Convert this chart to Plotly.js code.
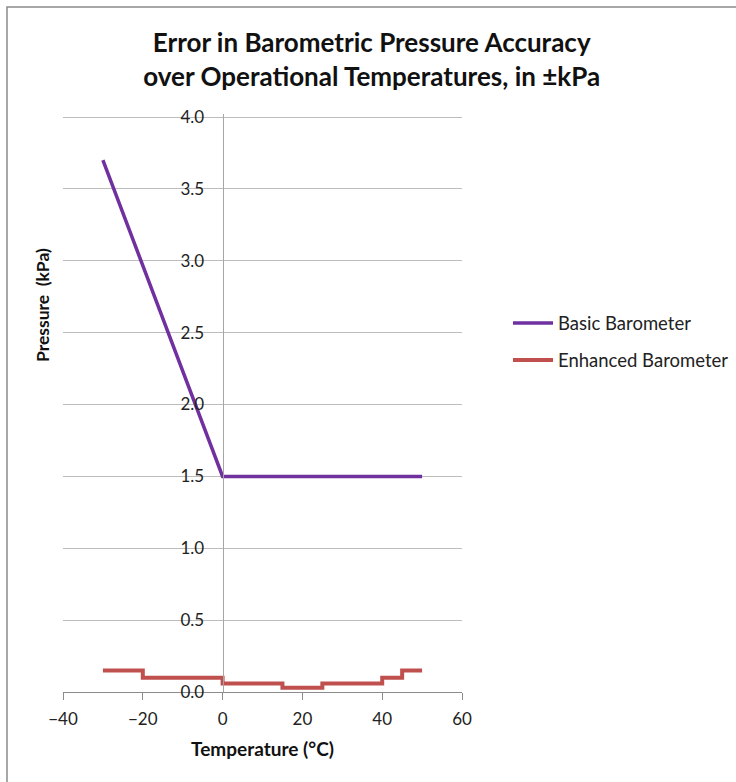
<!DOCTYPE html>
<html>
<head>
<meta charset="utf-8">
<script src="https://cdn.plot.ly/plotly-3.0.1.min.js"></script>
<style>html,body{margin:0;padding:0;background:#fff;}</style>
</head>
<body>
<div id="chart" style="width:736px;height:782px;"></div>
<script>
// Data
const basicTemp = [-30, 0, 50];
const basicPressure = [3.7, 1.5, 1.5];
const enhancedTemp = [-30, -20, -20, 0, 0, 15, 15, 25, 25, 40, 40, 45, 45, 50];
const enhancedPressure = [0.15, 0.15, 0.1, 0.1, 0.06, 0.06, 0.03, 0.03, 0.06, 0.06, 0.1, 0.1, 0.15, 0.15];
const seriesNames = ["Basic Barometer", "Enhanced Barometer"];
const chartTitle = "Error in Barometric Pressure Accuracy<br>over Operational Temperatures, in ±kPa";
const xTitle = "Temperature (°C)";
const yTitle = "Pressure  (kPa)";

const FONT = "Lato, 'Open Sans', sans-serif";

const traces = [
  {x: basicTemp, y: basicPressure, mode: "lines", name: seriesNames[0], legendgroup: "a",
   line: {color: "#7030A0", width: 3.5}},
  {x: enhancedTemp, y: enhancedPressure, mode: "lines", name: seriesNames[1], legendgroup: "b",
   line: {color: "#C0504D", width: 4}}
];

// plot area in pixels: x 63..462, y 114..692 (4.0 sits at 117)
const L = 63, R = 462, T = 114, B = 692;
const yMax = 4.0 * (B - T) / (B - 117);
const px = v => (v - L) / (R - L);
const py = v => (B - v) / (B - T);

const layout = {
  width: 736, height: 782,
  margin: {l: L, r: 736 - R, t: T, b: 782 - B},
  paper_bgcolor: "#fff", plot_bgcolor: "#fff",
  font: {family: FONT, color: "#222", size: 15},
  title: {text: chartTitle, font: {family: FONT, size: 26, color: "#111", weight: "bold"},
          xref: "container", x: 0.505, xanchor: "center", yref: "container", y: 1 - 52/782, yanchor: "middle"},
  showlegend: true,
  legend: {xref: "container", x: 508/736, xanchor: "left", yref: "container", y: 1 - 342/782, yanchor: "middle", itemwidth: 40,
           font: {family: FONT, size: 18.5, color: "#222"}, traceorder: "grouped", tracegroupgap: 10,
           bgcolor: "rgba(0,0,0,0)"},
  xaxis: {range: [-40, 60], dtick: 20, tick0: -40, showgrid: false, zeroline: false, automargin: false,
          showline: true, linecolor: "#8c8c8c", linewidth: 1, ticks: "outside", ticklen: 7,
          tickcolor: "#8c8c8c", tickfont: {family: FONT, size: 17, color: "#222"}, ticklabelstandoff: 5,
          title: {text: xTitle, font: {family: FONT, size: 19, weight: "bold", color: "#111"}, standoff: 14},
          fixedrange: true},
  yaxis: {range: [0, yMax], dtick: 0.5, tick0: 0, tickformat: ".1f", showgrid: true, gridcolor: "#bdbdbd",
          gridwidth: 1, zeroline: false, showline: true, linecolor: "#a6a6a6", linewidth: 1, automargin: false,
          anchor: "free", position: 0.4, ticks: "", tickfont: {family: FONT, size: 17, color: "#222"},
          ticklabelstandoff: 15, fixedrange: true},
  annotations: [
    {text: yTitle, xref: "paper", yref: "paper", x: px(42), y: py(305), showarrow: false,
     textangle: -90, xanchor: "center", yanchor: "middle",
     font: {family: FONT, size: 17.5, weight: "bold", color: "#111"}}
  ],
  shapes: [
    {type: "rect", xref: "paper", yref: "paper", x0: px(7), x1: px(745), y0: py(795), y1: py(7),
     line: {color: "#8a8a8a", width: 1.5}, fillcolor: "rgba(0,0,0,0)", layer: "below"}
  ]
};

Plotly.newPlot("chart", traces, layout, {displayModeBar: false, staticPlot: true});
</script>
</body>
</html>
